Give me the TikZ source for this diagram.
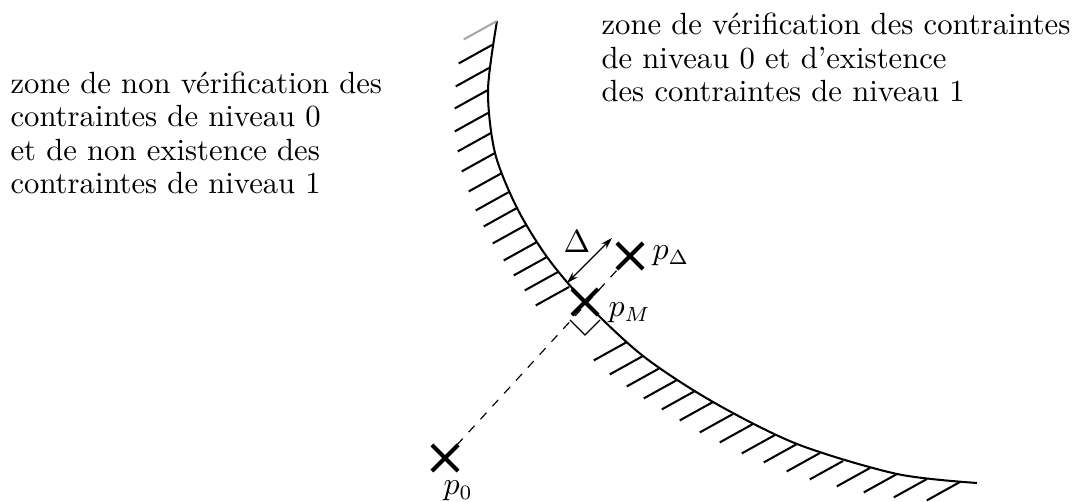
\documentclass[tikz,border=0pt]{standalone}
\usetikzlibrary{shapes.misc,arrows.meta}

\tikzset{
  croix/.style={cross out,draw,line width=1.4pt,minimum size=0.265cm,inner sep=0pt},
  hachure/.style={line width=0.7pt},
  zone/.style={anchor=base west,align=left,inner sep=0pt,font=\fontsize{10.5}{11.5}\selectfont}
}

\begin{document}
\begin{tikzpicture}[x=0.01204cm,y=0.01204cm]
    \useasboundingbox (0,0) rectangle (1082,502);
    % frontiere
    \draw [hachure] plot [smooth] coordinates {(497,481) (488,412) (495,349) (517,294) (547,245) (585,200) (643,146) (713,100) (797,58) (897,28) (977,19)};
    % hachures
    \draw [hachure,black!35] (497,481) -- ++(209:38);
    \foreach \hx/\hy in {492/457,489/434,488/412,488/389,491/369,495/349,502/329,509/310,517/294,526/277,537/260,547/245,558/230,569/215,
        627/160,643/146,660/134,677/122,695/111,713/100,733/88,753/78,775/67,797/58,820/49,843/41,870/34,897/28,927/23,960/20}
        \draw [hachure] (\hx,\hy) -- ++(209:38);
    % points
    \node [croix] (p0) at (445,44) {};
    \node [croix] (pM) at (585,200) {};
    \node [croix] (pD) at (630,246) {};
    \draw [dashed] (p0.center) -- (pD.center);
    \draw (570,182) -- (585,167) -- (600,182);
    \draw [{Stealth[length=4pt,width=2.5pt]}-{Stealth[length=4pt,width=2.5pt]}] (567,219) -- (612,264);
    \node [zone] (delta) at (563,249) {$\Delta$};
    \node [zone] (lp0) at (443,7) {$p_0$};
    \node [zone] (lpM) at (608,185) {$p_M$};
    \node [zone] (lpD) at (652,242) {$p_\Delta$};
    % textes
    \node [zone] (gauche) at (10,308) {zone de non vérification des\\contraintes de niveau 0\\et de non existence des\\contraintes de niveau 1};
    \node [zone] (droite) at (601,400) {zone de vérification des contraintes\\de niveau 0 et d'existence\\des contraintes de niveau 1};
\end{tikzpicture}
\end{document}
